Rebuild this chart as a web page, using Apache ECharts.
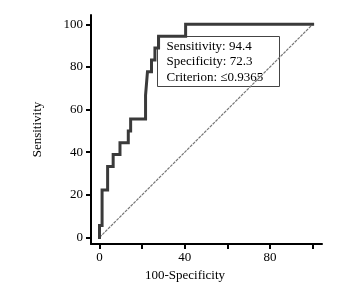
<!DOCTYPE html>
<html>
<head>
<meta charset="utf-8">
<script src="https://cdn.jsdelivr.net/npm/echarts@6/dist/echarts.min.js"></script>
<style>
  html, body { margin: 0; padding: 0; background: #fff; }
  #main { width: 340px; height: 288px; }
</style>
</head>
<body>
<div id="main"></div>
<script>
// ROC operating points (100-Specificity, Sensitivity)
var fpr = [0, 0, 1.2, 3.8, 6.4, 9.6, 13.5, 14.6, 21.6, 22.5, 24.4, 26, 27.7, 40.4, 100];
var tpr = [0, 5.6, 22.2, 33.3, 38.9, 44.4, 50, 55.6, 66.7, 77.8, 83.3, 88.9, 94.4, 100, 100];
var refLine = [[0, 0], [100, 100]];
var tickVals = [0, 20, 40, 60, 80, 100];
var xLabelVals = [0, 40, 80];
var infoLines = ['Sensitivity: 94.4', 'Specificity: 72.3', 'Criterion: \u22640.9365'];

var font = '"Liberation Serif", "Times New Roman", serif';

// build staircase: horizontal first, then vertical
var steps = [[fpr[0], tpr[0]]];
for (var i = 1; i < fpr.length; i++) {
    steps.push([fpr[i], tpr[i - 1]]);
    steps.push([fpr[i], tpr[i]]);
}

var myChart = echarts.init(document.getElementById('main'));

var axisCommon = {
    type: 'value',
    splitLine: { show: false },
    axisLine: { show: true, onZero: false, lineStyle: { color: '#000', width: 2 } },
    axisTick: { show: true, length: 5, customValues: tickVals, lineStyle: { color: '#000', width: 2 } },
    nameTextStyle: { fontFamily: font, fontSize: 13, color: '#000' }
};

var option = {
    animation: false,
    backgroundColor: '#fff',
    grid: { left: 91, right: 18, top: 15, bottom: 44 },
    xAxis: echarts.util.merge({
        min: -4,
        max: 104.4,
        name: '100-Specificity',
        nameLocation: 'middle',
        nameGap: 24,
        nameTextStyle: { padding: [0, 43, 0, 0] },
        axisLabel: { customValues: xLabelVals, margin: 7, fontFamily: font, fontSize: 13, color: '#000' }
    }, axisCommon, false),
    yAxis: echarts.util.merge({
        min: -3.1,
        max: 104.4,
        name: 'Sensitivity',
        nameLocation: 'middle',
        nameGap: 47,
        axisLabel: { customValues: tickVals, margin: 8, fontFamily: font, fontSize: 13, color: '#000' }
    }, axisCommon, false),
    series: [
        {
            type: 'line',
            data: refLine,
            symbol: 'none',
            silent: true,
            lineStyle: { color: '#777', width: 1.2, type: [3, 1] },
            z: 1
        },
        {
            type: 'line',
            data: steps,
            symbol: 'none',
            lineStyle: { color: '#3a3a3a', width: 3, join: 'miter', cap: 'square' },
            z: 2
        }
    ],
    graphic: [{
        type: 'group',
        left: 157,
        top: 36,
        z: 100,
        children: [
            {
                type: 'rect',
                shape: { x: 0, y: 0, width: 122, height: 50 },
                style: { fill: '#fff', stroke: '#444', lineWidth: 1 }
            },
            {
                type: 'text',
                x: 9,
                y: 2,
                style: {
                    text: infoLines.join('\n'),
                    font: '13px ' + font,
                    lineHeight: 15.5,
                    fill: '#000'
                }
            }
        ]
    }]
};

myChart.setOption(option);
</script>
</body>
</html>
